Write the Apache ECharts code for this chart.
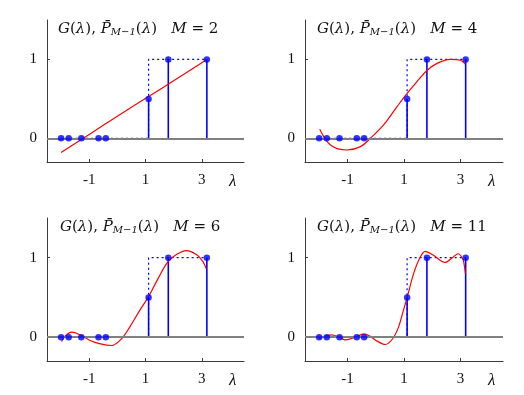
<!DOCTYPE html>
<html>
<head>
<meta charset="utf-8">
<script src="https://cdn.jsdelivr.net/npm/echarts@6/dist/echarts.min.js"></script>
<style>
html,body{margin:0;padding:0;background:#fff;}
#chart{width:524px;height:395px;}
</style>
</head>
<body>
<div id="chart"></div>
<script>
// ---- data ----
const lambdas = [-2.0, -1.73, -1.28, -0.67, -0.41, 1.11, 1.81, 3.18];
const gValues = [0, 0, 0, 0, 0, 0.5, 1, 1];
const stepX = [-2.0, 1.11, 1.11, 3.18];
const stepY = [0, 0, 1, 1];
const mValues = [2, 4, 6, 11];
const xTicks = [-1, 1, 3];
const yTicks = [0, 1];

const curveX_M2 = [-2.0, -1.0, 0.0, 1.11, 2.0, 3.18];
const curveY_M2 = [-0.18, 0.05, 0.28, 0.53, 0.73, 1.0];

const curveX_M4 = [-1.98, -1.6, -1.01, -0.54, -0.19, 0.28, 0.75, 1.11, 1.46, 1.81, 2.17, 2.64, 2.99, 3.17];
const curveY_M4 = [0.114, -0.084, -0.148, -0.105, 0.0, 0.17, 0.40, 0.57, 0.72, 0.86, 0.95, 1.0, 0.99, 0.94];

const curveX_M6 = [-1.98, -1.86, -1.62, -1.33, -0.97, -0.6, -0.21, 0.15, 0.44, 0.80, 1.11, 1.45, 1.80, 2.10, 2.45, 2.81, 3.04, 3.16];
const curveY_M6 = [-0.055, 0.013, 0.063, 0.03, -0.042, -0.085, -0.105, -0.02, 0.127, 0.34, 0.51, 0.74, 0.95, 1.04, 1.09, 1.04, 0.95, 0.86];

const curveX_M11 = [-2.0, -1.8, -1.55, -1.3, -1.07, -0.71, -0.42, -0.19, 0.05, 0.34, 0.6, 0.8, 0.95, 1.11, 1.34, 1.55, 1.75, 2.04, 2.45, 2.74, 2.91, 3.07, 3.12, 3.17];
const curveY_M11 = [-0.02, 0.01, 0.03, 0.0, -0.034, 0.0, 0.042, 0.01, -0.05, -0.092, -0.02, 0.12, 0.3, 0.5, 0.8, 0.99, 1.08, 1.03, 0.94, 1.01, 1.05, 0.99, 0.93, 0.80];

const curvesX = [curveX_M2, curveX_M4, curveX_M6, curveX_M11];
const curvesY = [curveY_M2, curveY_M4, curveY_M6, curveY_M11];

// ---- layout ----
const grids = [
  {left: 47, top: 20, width: 197, height: 142},
  {left: 305, top: 20, width: 198, height: 142},
  {left: 47, top: 218, width: 197, height: 143},
  {left: 305, top: 218, width: 198, height: 143}
];
const titlePos = [
  {left: 53, top: 12},
  {left: 312, top: 12},
  {left: 55, top: 210},
  {left: 312, top: 210}
];

const SERIF = '"Liberation Serif", "DejaVu Serif", serif';
const TSERIF = '"DejaVu Serif", "Liberation Serif", serif';
const BLUE = '#0000ff';
const RED = '#ff0000';
const AXIS = '#3a3a3a';

const zip = (a, b) => a.map((v, i) => [v, b[i]]);

const tStyle = (italic, size, lh) => ({
  fontFamily: TSERIF, fontStyle: italic ? 'italic' : 'normal', fontWeight: 'normal',
  fontSize: size, color: '#111', lineHeight: lh, verticalAlign: 'bottom'
});

const xAxes = [], yAxes = [], series = [], titles = [];
grids.forEach((g, i) => {
  xAxes.push({
    type: 'value', gridIndex: i, min: -2.5, max: 4.5,
    axisLine: {show: true, onZero: false, lineStyle: {color: AXIS, width: 1}},
    axisTick: {show: true, inside: true, length: 3, customValues: xTicks, lineStyle: {color: AXIS}},
    axisLabel: {
      customValues: xTicks.concat([4.1]), margin: 11,
      formatter: v => (v > 4 ? '{l|λ}' : String(v)),
      fontFamily: SERIF, fontSize: 15, color: '#111',
      rich: {l: {fontFamily: SERIF, fontStyle: 'italic', fontSize: 17, color: '#111'}}
    },
    splitLine: {show: false}
  });
  yAxes.push({
    type: 'value', gridIndex: i, min: -0.3, max: 1.5,
    axisLine: {show: true, onZero: false, lineStyle: {color: AXIS, width: 1}},
    axisTick: {show: true, inside: true, length: 3, customValues: yTicks, lineStyle: {color: AXIS}},
    axisLabel: {customValues: yTicks, margin: 10, fontFamily: SERIF, fontSize: 15, color: '#111'},
    splitLine: {show: false}
  });
  // zero line
  series.push({
    type: 'line', xAxisIndex: i, yAxisIndex: i, data: [], z: 1, silent: true,
    markLine: {
      silent: true, symbol: 'none', label: {show: false},
      lineStyle: {color: '#808080', width: 2, type: 'solid'},
      data: [{yAxis: 0}], animation: false
    }
  });
  // ideal step (dotted)
  series.push({
    type: 'line', xAxisIndex: i, yAxisIndex: i, z: 2,
    data: zip(stepX, stepY), showSymbol: false, symbol: 'none',
    lineStyle: {color: BLUE, width: 1.2, type: [2, 3]}
  });
  // stems
  series.push({
    type: 'bar', xAxisIndex: i, yAxisIndex: i, z: 3,
    data: zip(lambdas, gValues), barWidth: 1.6,
    itemStyle: {color: BLUE}
  });
  // approximation curve
  series.push({
    type: 'line', xAxisIndex: i, yAxisIndex: i, z: 4,
    data: zip(curvesX[i], curvesY[i]), smooth: 0.35, showSymbol: false, symbol: 'none',
    lineStyle: {color: RED, width: 1.2}
  });
  // samples
  series.push({
    type: 'scatter', xAxisIndex: i, yAxisIndex: i, z: 5,
    data: zip(lambdas, gValues), symbolSize: 6.5,
    itemStyle: {color: BLUE}
  });
  titles.push({
    left: titlePos[i].left, top: titlePos[i].top,
    text: '{i|G}{n|(}{i|λ}{n|), }{i|P̄}{s|M−1}{n|(}{i|λ}{n|)   }{i|M}{n| = ' + mValues[i] + '}',
    textStyle: {
      fontWeight: 'normal',
      rich: {
        i: tStyle(true, 15, 20),
        n: tStyle(false, 15, 20),
        s: tStyle(true, 10, 7)
      }
    }
  });
});

const chart = echarts.init(document.getElementById('chart'), null, {renderer: 'canvas'});
chart.setOption({
  animation: false,
  backgroundColor: '#fff',
  title: titles,
  grid: grids,
  xAxis: xAxes,
  yAxis: yAxes,
  series: series
});
</script>
</body>
</html>
